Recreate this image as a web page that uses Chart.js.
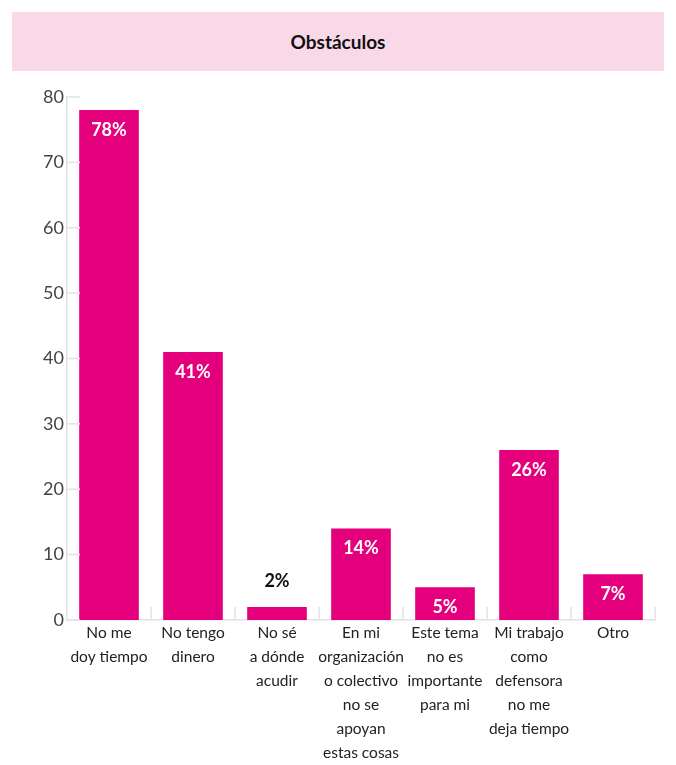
<!DOCTYPE html>
<html>
<head>
<meta charset="utf-8">
<script src="https://cdn.jsdelivr.net/npm/chart.js@4/dist/chart.umd.min.js"></script>
<style>
  html, body { margin: 0; padding: 0; background: #fff; }
  #wrap { position: relative; width: 676px; height: 765px; }
  #banner {
    position: absolute; left: 12px; top: 12px; width: 652px; height: 59px;
    background: #f9d9e8; display: flex; align-items: center; justify-content: center;
    font-family: "Lato", sans-serif; font-weight: bold; font-size: 19px; color: #111;
  }
  #box { position: absolute; left: 0; top: 0; width: 676px; height: 765px; }
</style>
</head>
<body>
<div id="wrap">
  <div id="banner">Obstáculos</div>
  <div id="box"><canvas id="myChart"></canvas></div>
</div>
<script>
// categories (multi-line labels as in the original)
const categories = [
    ["No me", "doy tiempo"],
    ["No tengo", "dinero"],
    ["No sé", "a dónde", "acudir"],
    ["En mi", "organización", "o colectivo", "no se", "apoyan", "estas cosas"],
    ["Este tema", "no es", "importante", "para mi"],
    ["Mi trabajo", "como", "defensora", "no me", "deja tiempo"],
    ["Otro"],
];
const values = [78, 41, 2, 14, 5, 26, 7];
const yTicks = [0, 10, 20, 30, 40, 50, 60, 70, 80];

const barColor = "#e4007c";
const tickColor = "#e2e2e2";

// short tick marks drawn inward from the axes
const innerTicks = {
    id: "innerTicks",
    afterDraw(chart) {
        const { ctx, chartArea, scales } = chart;
        ctx.save();
        ctx.strokeStyle = tickColor;
        ctx.lineWidth = 1.5;
        yTicks.forEach((v) => {
            const y = scales.y.getPixelForValue(v);
            ctx.beginPath();
            ctx.moveTo(chartArea.left, y);
            ctx.lineTo(chartArea.left + 13, y);
            ctx.stroke();
        });
        for (let i = 1; i <= categories.length; i++) {
            const x = (scales.x.getPixelForValue(i - 1) + scales.x.getPixelForValue(i)) / 2;
            ctx.beginPath();
            ctx.moveTo(x, chartArea.bottom);
            ctx.lineTo(x, chartArea.bottom - 13);
            ctx.stroke();
        }
        ctx.restore();
    },
};

// percentage labels on the bars
const barLabels = {
    id: "barLabels",
    afterDatasetsDraw(chart) {
        const { ctx } = chart;
        const meta = chart.getDatasetMeta(0);
        ctx.save();
        ctx.font = "bold 18px Lato, sans-serif";
        ctx.textAlign = "center";
        ctx.textBaseline = "middle";
        meta.data.forEach((bar, i) => {
            const h = bar.base - bar.y;
            if (h < 25) {
                ctx.fillStyle = "#111";
                ctx.fillText(values[i] + "%", bar.x, bar.y - 26);
            } else {
                ctx.fillStyle = "#fff";
                ctx.fillText(values[i] + "%", bar.x, bar.y + 20);
            }
        });
        ctx.restore();
    },
};

new Chart(document.getElementById("myChart"), {
    type: "bar",
    data: {
        labels: categories,
        datasets: [
            {
                data: values,
                backgroundColor: barColor,
                borderWidth: 0,
                categoryPercentage: 1,
                barPercentage: 0.71,
            },
        ],
    },
    options: {
        responsive: true,
        maintainAspectRatio: false,
        animation: false,
        layout: { padding: { top: 97, right: 21, bottom: 0, left: 0 } },
        plugins: {
            legend: { display: false },
            title: { display: false },
            tooltip: { enabled: false },
        },
        scales: {
            x: {
                grid: { display: false, drawTicks: false },
                border: { display: true, color: tickColor, width: 1.5 },
                ticks: {
                    color: "#222",
                    padding: 1,
                    maxRotation: 0,
                    autoSkip: false,
                    font: { family: "Lato, sans-serif", size: 15.5, lineHeight: 1.55 },
                },
                afterFit(scale) {
                    scale.height = 145;
                },
            },
            y: {
                min: 0,
                max: 80,
                grid: { display: false, drawTicks: false },
                border: { display: true, color: tickColor, width: 1.5 },
                ticks: {
                    stepSize: 10,
                    color: "#444",
                    padding: 3,
                    font: { family: "Lato, sans-serif", size: 18 },
                },
                afterFit(scale) {
                    scale.width = 67;
                },
            },
        },
    },
    plugins: [innerTicks, barLabels],
});
</script>
</body>
</html>
